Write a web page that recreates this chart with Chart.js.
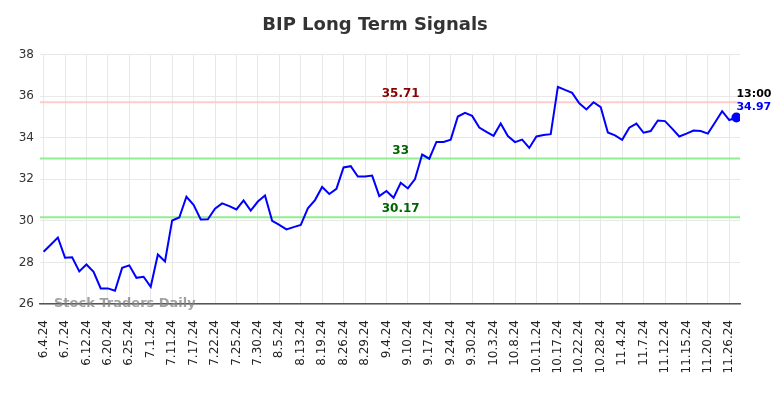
<!DOCTYPE html>
<html>
<head>
<meta charset="utf-8">
<script src="https://cdn.jsdelivr.net/npm/chart.js@4.4.1/dist/chart.umd.min.js"></script>
<style>
  html, body { margin: 0; padding: 0; background: #fff; }
  #wrap { width: 784px; height: 398px; }
</style>
</head>
<body>
<div id="wrap"><canvas id="chartBip"></canvas></div>
<script>
// BIP long term signals — price line + signal levels

const TICK_LABELS = [
  "6.4.24", "6.7.24", "6.12.24", "6.20.24", "6.25.24", "7.1.24", "7.11.24",
  "7.17.24", "7.22.24", "7.25.24", "7.30.24", "8.5.24", "8.13.24", "8.19.24",
  "8.26.24", "8.29.24", "9.4.24", "9.10.24", "9.17.24", "9.24.24", "9.30.24",
  "10.3.24", "10.8.24", "10.11.24", "10.17.24", "10.22.24", "10.28.24",
  "11.4.24", "11.7.24", "11.12.24", "11.15.24", "11.20.24", "11.26.24",
];
const TICK_EVERY = 3;

const PRICES = [
  28.51, 28.85, 29.2, 28.23, 28.25, 27.57, 27.9, 27.55, 26.75, 26.75,
  26.64, 27.74, 27.86, 27.26, 27.31, 26.83, 28.38, 28.05, 30.02, 30.16,
  31.16, 30.77, 30.07, 30.08, 30.59, 30.84, 30.71, 30.55, 30.98, 30.49,
  30.93, 31.22, 30.0, 29.81, 29.59, 29.7, 29.8, 30.6, 31.0, 31.63,
  31.29, 31.54, 32.57, 32.63, 32.13, 32.13, 32.18, 31.19, 31.44, 31.11,
  31.83, 31.56, 32.01, 33.19, 32.99, 33.8, 33.8, 33.91, 35.02, 35.2,
  35.05, 34.49, 34.28, 34.09, 34.68, 34.08, 33.79, 33.91, 33.51, 34.06,
  34.13, 34.17, 36.45, 36.3, 36.16, 35.66, 35.36, 35.71, 35.47, 34.25,
  34.11, 33.9, 34.48, 34.68, 34.24, 34.32, 34.83, 34.8, 34.44, 34.06,
  34.2, 34.35, 34.32, 34.2, 34.73, 35.28, 34.85, 34.97,
];

const LEVELS = [35.71, 33, 30.17];
const LEVEL_LABELS = ["35.71", "33", "30.17"];
const LEVEL_LINE_COLORS = ["#ffcccc", "#90ee90", "#90ee90"];
const LEVEL_TEXT_COLORS = ["#8b0000", "#006400", "#006400"];
const LEVEL_TEXT_AT = 50; // x index where the level text sits

const LAST_TIME = "13:00";

Chart.defaults.font.family = "'DejaVu Sans', sans-serif";
Chart.defaults.color = "#222";

const GRID = { color: "#e8e8e8", lineWidth: 1, drawTicks: false };

const signalsPlugin = {
  id: "signals",
  beforeDatasetsDraw(chart) {
    const { ctx, chartArea, scales } = chart;
    ctx.save();
    LEVELS.forEach((v, i) => {
      const y = scales.y.getPixelForValue(v);
      ctx.strokeStyle = LEVEL_LINE_COLORS[i];
      ctx.lineWidth = 2;
      ctx.beginPath();
      ctx.moveTo(chartArea.left, y);
      ctx.lineTo(chartArea.right, y);
      ctx.stroke();
    });
    ctx.restore();
  },
  afterDatasetsDraw(chart) {
    const { ctx, chartArea, scales } = chart;
    ctx.save();
    ctx.textAlign = "center";
    ctx.textBaseline = "middle";
    ctx.font = "bold 12px 'DejaVu Sans'";
    LEVELS.forEach((v, i) => {
      ctx.fillStyle = LEVEL_TEXT_COLORS[i];
      ctx.fillText(
        LEVEL_LABELS[i],
        scales.x.getPixelForValue(LEVEL_TEXT_AT),
        scales.y.getPixelForValue(v) - 8,
      );
    });

    // watermark
    ctx.textAlign = "left";
    ctx.font = "bold 13px 'DejaVu Sans'";
    ctx.fillStyle = "rgba(130,130,130,0.75)";
    ctx.fillText("Stock Traders Daily", chartArea.left + 14, chartArea.bottom);

    // last value tag
    const last = PRICES.length - 1;
    const px = scales.x.getPixelForValue(last);
    const py = scales.y.getPixelForValue(PRICES[last]);
    ctx.font = "bold 11px 'DejaVu Sans'";
    ctx.fillStyle = "#000";
    ctx.fillText(LAST_TIME, px, py - 23);
    ctx.fillStyle = "#0000ff";
    ctx.fillText(PRICES[last].toFixed(2), px, py - 10);
    ctx.restore();
  },
};

new Chart(document.getElementById("chartBip"), {
  type: "line",
  data: {
    datasets: [
      {
        data: PRICES.map((p, i) => ({ x: i, y: p })),
        borderColor: "#0000ff",
        backgroundColor: "#0000ff",
        borderWidth: 2,
        tension: 0,
        pointRadius: (c) => (c.dataIndex === PRICES.length - 1 ? 4 : 0),
        pointHoverRadius: 0,
      },
    ],
  },
  options: {
    responsive: true,
    maintainAspectRatio: false,
    animation: false,
    layout: { padding: { left: 10, right: 44, top: 0, bottom: 0 } },
    plugins: {
      legend: { display: false },
      tooltip: { enabled: false },
      title: {
        display: true,
        text: "BIP Long Term Signals",
        color: "#333",
        font: { size: 18, weight: "bold" },
        padding: { top: 15, bottom: 18 },
      },
    },
    scales: {
      x: {
        type: "linear",
        min: -0.5,
        max: PRICES.length - 0.5,
        grid: GRID,
        border: { display: true, color: "#555", width: 1.5 },
        afterBuildTicks: (s) => {
          s.ticks = TICK_LABELS.map((_, i) => ({ value: i * TICK_EVERY }));
        },
        afterFit: (s) => {
          s.height = 94;
        },
        ticks: {
          autoSkip: false,
          maxRotation: 90,
          minRotation: 90,
          padding: 16,
          color: "#222",
          font: { size: 12 },
          callback: (v) => TICK_LABELS[Math.round(v / TICK_EVERY)] ?? "",
        },
      },
      y: {
        min: 26,
        max: 38,
        grid: GRID,
        border: { display: false },
        afterFit: (s) => {
          s.width = 30;
        },
        ticks: { stepSize: 2, padding: 6, color: "#333", font: { size: 12 } },
      },
    },
  },
  plugins: [signalsPlugin],
});
</script>
</body>
</html>
